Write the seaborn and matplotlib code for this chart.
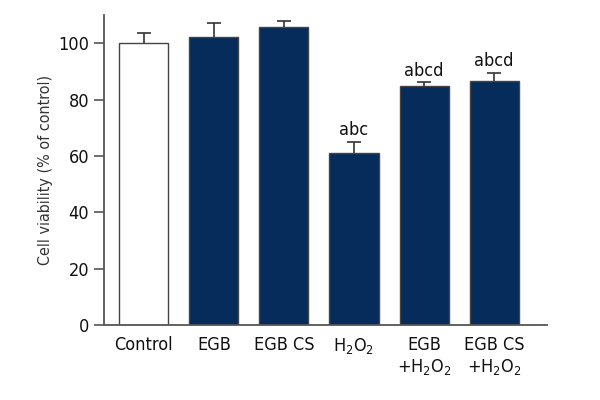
import matplotlib
matplotlib.use("Agg")
import matplotlib.pyplot as plt
import seaborn as sns
import pandas as pd

# Dados
grupos = ["Control", "EGB", "EGB CS", "H$_2$O$_2$", "EGB\n+H$_2$O$_2$", "EGB CS\n+H$_2$O$_2$"]
viabilidade = [100.0, 102.1, 105.7, 61.2, 84.7, 86.7]
erro = [3.7, 4.9, 2.0, 3.7, 1.4, 2.8]
letras = ["", "", "", "abc", "abcd", "abcd"]
cores = ["#ffffff", "#052c5a", "#052c5a", "#052c5a", "#052c5a", "#052c5a"]

sns.set_style("ticks")
plt.rcParams["font.family"] = ["DejaVu Sans"]
plt.rcParams["font.stretch"] = "condensed"
plt.rcParams["mathtext.fontset"] = "custom"
plt.rcParams["mathtext.rm"] = "DejaVu Sans:stretch=condensed"
plt.rcParams["mathtext.it"] = "DejaVu Sans:stretch=condensed"

df = pd.DataFrame({"Grupo": grupos, "Viab": viabilidade})

fig, ax = plt.subplots(figsize=(6, 4), dpi=100)
fig.subplots_adjust(left=0.173, right=0.912, bottom=0.1875, top=0.9625)

sns.barplot(data=df, x="Grupo", y="Viab", hue="Grupo", palette=cores, saturation=1,
            width=0.7, edgecolor="#444444", linewidth=1.0, legend=False, ax=ax)

# barras de erro só para cima
_, caps, _ = ax.errorbar(range(len(grupos)), viabilidade, yerr=[[0] * len(erro), erro],
                         fmt="none", ecolor="#333333", elinewidth=1.2, capsize=5, capthick=1.2)
caps[0].set_visible(False)

for i, (v, e, t) in enumerate(zip(viabilidade, erro, letras)):
    if t:
        ax.text(i, v + e + 1.0, t, ha="center", va="bottom", fontsize=13, color="#111111")

ax.set_xlim(-0.571, 5.757)
ax.set_ylim(0, 110)
ax.set_yticks([0, 20, 40, 60, 80, 100])
ax.set_xlabel("")
ax.set_ylabel("Cell viability (% of control)", fontsize=11.5, color="#333333")
ax.tick_params(axis="y", labelsize=13, length=7, width=1.2, color="#555555", labelcolor="#111111")
ax.tick_params(axis="x", labelsize=13, length=0, pad=8, labelcolor="#111111")
sns.despine(ax=ax)
for s in ["left", "bottom"]:
    ax.spines[s].set_color("#555555")
    ax.spines[s].set_linewidth(1.3)

plt.savefig("out.png", dpi=100)
plt.close()
